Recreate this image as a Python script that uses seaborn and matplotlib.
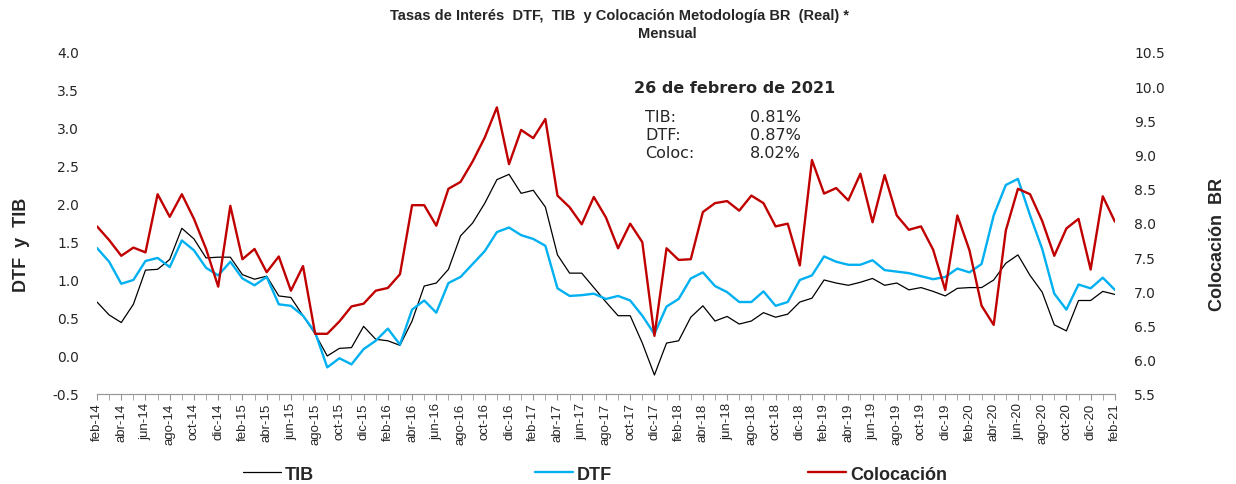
import matplotlib
matplotlib.use("Agg")
import matplotlib.pyplot as plt
import numpy as np
import pandas as pd
import seaborn as sns

# month labels, feb-14 .. feb-21
meses = ["ene", "feb", "mar", "abr", "may", "jun", "jul", "ago", "sep", "oct", "nov", "dic"]
fechas = [f"{m}-{y:02d}" for y in range(14, 22) for m in meses][1:86]

tib = [0.71, 0.54, 0.44, 0.68, 1.13, 1.14, 1.27, 1.68, 1.54, 1.29, 1.30,
       1.30, 1.07, 1.01, 1.05, 0.79, 0.77, 0.53, 0.29, 0.00, 0.10, 0.11, 0.39,
       0.22, 0.20, 0.14, 0.46, 0.92, 0.96, 1.14, 1.58, 1.75, 2.01, 2.32, 2.39,
       2.14, 2.18, 1.96, 1.33, 1.09, 1.09, 0.90, 0.71, 0.53, 0.53, 0.17, -0.25,
       0.17, 0.20, 0.51, 0.66, 0.46, 0.52, 0.42, 0.46, 0.57, 0.51, 0.55, 0.71,
       0.76, 1.00, 0.96, 0.93, 0.97, 1.02, 0.93, 0.96, 0.87, 0.90, 0.85, 0.79,
       0.89, 0.90, 0.90, 1.00, 1.22, 1.33, 1.06, 0.84, 0.41, 0.33, 0.73, 0.73,
       0.85, 0.81]

dtf = [1.42, 1.24, 0.95, 1.00, 1.25, 1.29, 1.17, 1.52, 1.39, 1.16, 1.06,
       1.24, 1.02, 0.93, 1.04, 0.68, 0.66, 0.53, 0.31, -0.15, -0.03, -0.11, 0.09,
       0.20, 0.36, 0.15, 0.61, 0.73, 0.57, 0.96, 1.04, 1.21, 1.38, 1.63, 1.69,
       1.59, 1.54, 1.45, 0.89, 0.79, 0.80, 0.82, 0.75, 0.79, 0.73, 0.53, 0.29,
       0.65, 0.75, 1.02, 1.10, 0.92, 0.84, 0.71, 0.71, 0.85, 0.66, 0.71, 1.00,
       1.06, 1.31, 1.24, 1.20, 1.20, 1.26, 1.13, 1.11, 1.09, 1.05, 1.01, 1.04,
       1.15, 1.10, 1.21, 1.85, 2.25, 2.33, 1.85, 1.41, 0.82, 0.61, 0.94, 0.89,
       1.03, 0.87]

colocacion = [7.95, 7.75, 7.52, 7.64, 7.57, 8.42, 8.09, 8.42, 8.06, 7.62, 7.07,
              8.25, 7.47, 7.62, 7.28, 7.51, 7.01, 7.37, 6.38, 6.38, 6.56, 6.78, 6.82,
              7.01, 7.05, 7.25, 8.26, 8.26, 7.96, 8.50, 8.60, 8.90, 9.25, 9.69, 8.86,
              9.36, 9.24, 9.52, 8.40, 8.23, 7.98, 8.38, 8.08, 7.63, 7.99, 7.72, 6.35,
              7.63, 7.46, 7.47, 8.16, 8.29, 8.32, 8.18, 8.40, 8.29, 7.95, 7.99, 7.38,
              8.92, 8.43, 8.51, 8.33, 8.72, 8.01, 8.70, 8.11, 7.90, 7.95, 7.61, 7.02,
              8.11, 7.60, 6.79, 6.51, 7.89, 8.50, 8.42, 8.03, 7.52, 7.92, 8.06, 7.32,
              8.39, 8.02]

ultimo = {"TIB:": "0.81%", "DTF:": "0.87%", "Coloc:": "8.02%"}

df = pd.DataFrame({"pos": np.arange(len(fechas)), "fecha": fechas,
                   "TIB": tib, "DTF": dtf, "Colocación": colocacion})

sns.set_style("white")
plt.rcParams["font.family"] = ["DejaVu Sans"]
narrow = ["Liberation Sans Narrow", "Liberation Sans", "DejaVu Sans"]
arial = ["Liberation Sans", "DejaVu Sans"]

fig = plt.figure(figsize=(12.36, 4.85), dpi=100)
ax = fig.add_axes([0.0785, 0.1856, 0.8235, 0.7052])
ax2 = ax.twinx()

sns.lineplot(data=df, x="pos", y="TIB", ax=ax, color="black", linewidth=0.9, legend=False)
sns.lineplot(data=df, x="pos", y="DTF", ax=ax, color="#00B0F0", linewidth=1.7, legend=False)
sns.lineplot(data=df, x="pos", y="Colocación", ax=ax2, color="#C00000", linewidth=1.7, legend=False)

ax.set_xlim(0, len(fechas) - 1)
ax.set_ylim(-0.5, 4.0)
ax2.set_ylim(5.5, 10.5)
izq = np.arange(-0.5, 4.01, 0.5)
der = np.arange(5.5, 10.51, 0.5)
ax.set_yticks(izq)
ax2.set_yticks(der)
ax.set_yticklabels([f"{v:.1f}" for v in izq])
ax2.set_yticklabels([f"{v:.1f}" for v in der])

ax.set_xticks(df["pos"][::2])
ax.set_xticklabels(df["fecha"][::2], rotation=90, family=narrow, fontsize=9.5)
ax.set_xticks(df["pos"], minor=True)
ax.tick_params(axis="x", which="both", length=4, color="#999999", pad=2, bottom=True)
ax.tick_params(axis="y", length=0, pad=13, labelsize=10)
ax2.tick_params(axis="y", length=0, pad=14, labelsize=10)

for a in (ax, ax2):
    for s in ("left", "right", "top"):
        a.spines[s].set_visible(False)
    a.spines["bottom"].set_color("#999999")
    a.set_xlabel("")
    a.set_ylabel("")

fig.text(0.017, 0.495, "DTF  y  TIB", rotation=90, ha="center", va="center",
         fontsize=13, fontweight="bold", family=narrow)
fig.text(0.985, 0.495, "Colocación  BR", rotation=90, ha="center", va="center",
         fontsize=13, fontweight="bold", family=narrow)

fig.text(0.501, 0.968, "Tasas de Interés  DTF,  TIB  y Colocación Metodología BR  (Real) *",
         ha="center", va="center", fontsize=10.5, fontweight="bold", family=narrow)
fig.text(0.54, 0.93, "Mensual", ha="center", va="center", fontsize=10.5,
         fontweight="bold", family=narrow)

fig.text(0.594, 0.818, "26 de febrero de 2021", ha="center", va="center",
         fontsize=11.5, fontweight="bold")
for i, (k, v) in enumerate(ultimo.items()):
    y = 0.758 - i * 0.037
    fig.text(0.522, y, k, ha="left", va="center", fontsize=11.5)
    fig.text(0.648, y, v, ha="right", va="center", fontsize=11.5)

# three separate legend entries, as in the original
nombres = ["TIB", "DTF", "Colocación"]
lineas = ax.get_lines()[:2] + ax2.get_lines()[:1]
xs = [0.197, 0.433, 0.654]
for h, n, x0 in zip(lineas, nombres, xs):
    fig.legend([h], [n], loc="center left", bbox_to_anchor=(x0, 0.02),
               frameon=False, handlelength=2.1, handletextpad=0.2,
               borderaxespad=0, borderpad=0,
               prop={"family": arial, "weight": "bold", "size": 13})

fig.savefig("out.png", dpi=100)
plt.close(fig)
